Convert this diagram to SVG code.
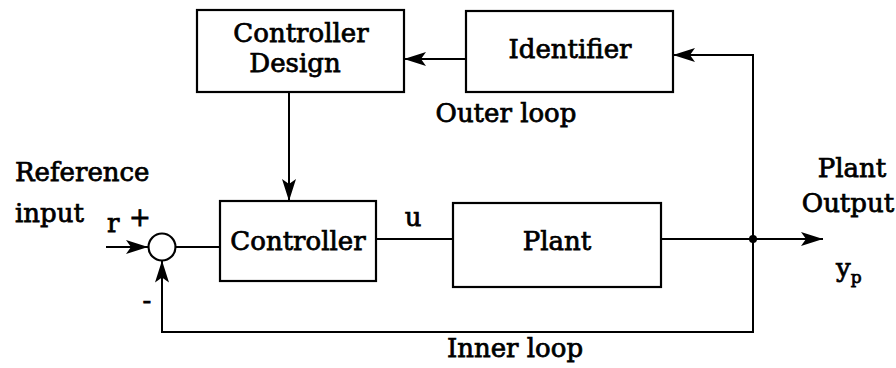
<svg xmlns="http://www.w3.org/2000/svg" width="896" height="368" viewBox="0 0 896 368">
  <style>
    .box { fill: #fff; stroke: #000; stroke-width: 2.2; }
    .wire { fill: none; stroke: #000; stroke-width: 2; }
    .lbl { font-family: 'DejaVu Serif', serif; font-size: 26px; fill: #000; stroke: #000; stroke-width: 0.75; }
    .mid { text-anchor: middle; }
  </style>
  <defs>
    <marker id="arrow" viewBox="0 0 22 14" refX="22" refY="7" markerWidth="22" markerHeight="14" markerUnits="userSpaceOnUse" orient="auto">
      <path d="M0,0 L22,7 L0,14 L5,7 Z" fill="#000"/>
    </marker>
  </defs>

  <rect width="896" height="368" fill="#fff"/>

  <!-- connectors -->
  <g id="connectors">
    <!-- reference input into summing junction -->
    <line class="wire" x1="106" y1="247" x2="148" y2="247" marker-end="url(#arrow)"/>
    <!-- summing junction to controller -->
    <line class="wire" x1="175.5" y1="247" x2="220" y2="247"/>
    <!-- controller output u to plant -->
    <line class="wire" x1="376" y1="239" x2="453" y2="239"/>
    <!-- plant output -->
    <line class="wire" x1="661" y1="239" x2="823" y2="239" marker-end="url(#arrow)"/>
    <!-- outer loop: output up to identifier -->
    <polyline class="wire" points="753,239 753,55 673,55" marker-end="url(#arrow)"/>
    <!-- identifier to controller design -->
    <line class="wire" x1="466" y1="59" x2="404" y2="59" marker-end="url(#arrow)"/>
    <!-- controller design to controller -->
    <line class="wire" x1="289" y1="92" x2="289" y2="201" marker-end="url(#arrow)"/>
    <!-- inner loop: output back to summing junction -->
    <polyline class="wire" points="753,239 753,332 162,332 162,260.5" marker-end="url(#arrow)"/>
    <!-- branch point -->
    <circle cx="753" cy="239" r="4" fill="#000"/>
  </g>

  <!-- summing junction -->
  <g id="sum">
    <circle cx="162" cy="247" r="13.5" fill="#fff" stroke="#000" stroke-width="2.2"/>
    <text class="lbl" x="140" y="226" text-anchor="middle">+</text>
    <text class="lbl" x="147" y="309" text-anchor="middle">-</text>
  </g>

  <g id="controller-design">
    <rect class="box" x="197" y="10" width="207" height="82"/>
    <text class="lbl mid" x="301" y="42" font-size="27">Controller</text>
    <text class="lbl mid" x="295" y="72" font-size="27">Design</text>
  </g>

  <g id="identifier">
    <rect class="box" x="466" y="11" width="207" height="81"/>
    <text class="lbl mid" x="570" y="58">Identifier</text>
  </g>

  <g id="controller">
    <rect class="box" x="220" y="201" width="156" height="80"/>
    <text class="lbl mid" x="298" y="250">Controller</text>
  </g>

  <g id="plant">
    <rect class="box" x="453" y="203" width="208" height="84"/>
    <text class="lbl mid" x="557" y="250">Plant</text>
  </g>

  <!-- free labels -->
  <g id="labels">
    <text class="lbl" x="15" y="181">Reference</text>
    <text class="lbl" x="15" y="222">input</text>
    <text class="lbl" x="107" y="232">r</text>
    <text class="lbl mid" x="413" y="226">u</text>
    <text class="lbl mid" x="506" y="122">Outer loop</text>
    <text class="lbl mid" x="515" y="357">Inner loop</text>
    <text class="lbl mid" x="852" y="177">Plant</text>
    <text class="lbl mid" x="848" y="212">Output</text>
    <text class="lbl" x="836" y="277">y<tspan font-size="17" dy="6">p</tspan></text>
  </g>
</svg>
